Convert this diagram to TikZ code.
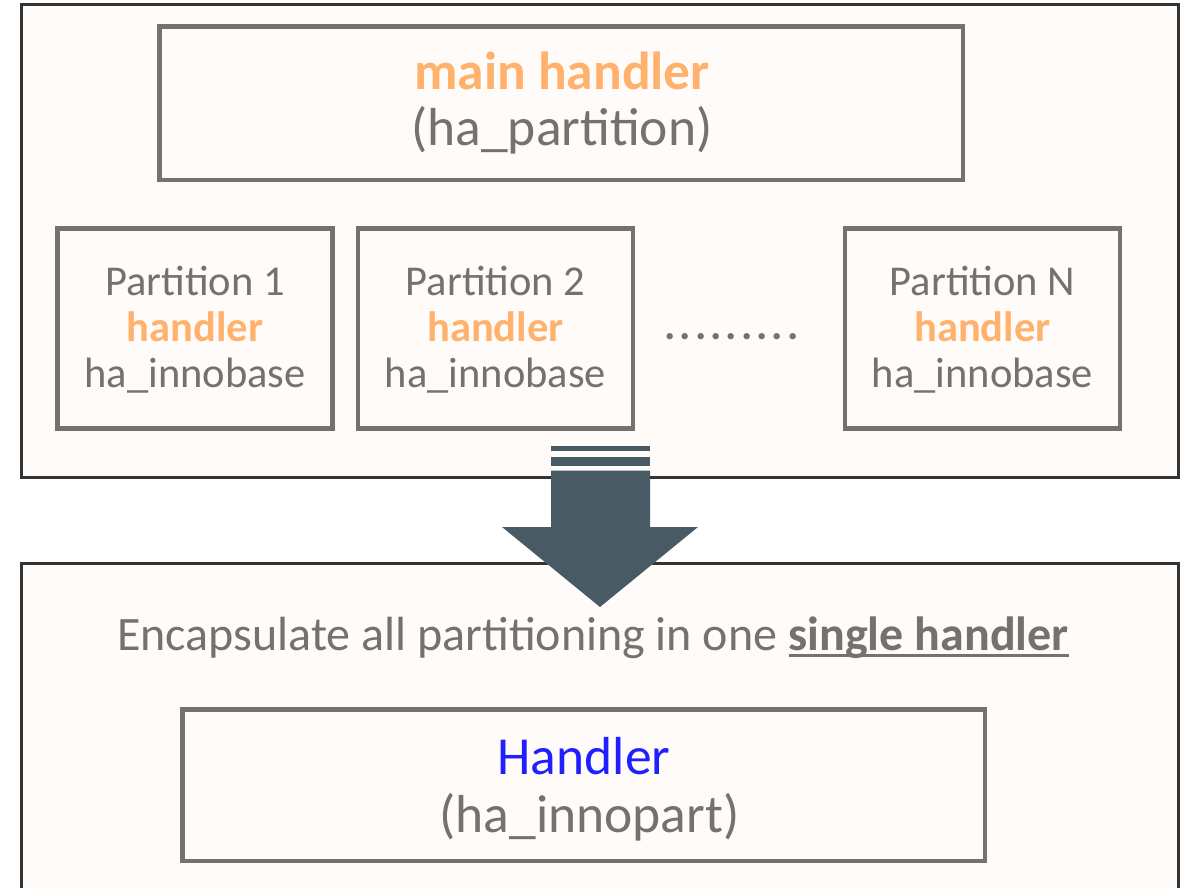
\documentclass[tikz,border=0pt]{standalone}
\usepackage{fontspec}
\setmainfont{Carlito}
\definecolor{panelfill}{HTML}{FFFBF8}
\definecolor{panelline}{HTML}{333333}
\definecolor{boxline}{HTML}{767171}
\definecolor{txtgray}{HTML}{767171}
\definecolor{hlorange}{HTML}{FFB26E}
\definecolor{hlblue}{HTML}{1F1FFF}
\definecolor{arrowfill}{HTML}{485B64}
% nine spaced dots between the partition boxes
\newcommand{\dotrun}{\bfseries\makebox[15.4pt]{.}\makebox[15.4pt]{.}\makebox[15.4pt]{.}\makebox[15.4pt]{.}\makebox[15.4pt]{.}\makebox[15.4pt]{.}\makebox[15.4pt]{.}\makebox[15.4pt]{.}\makebox[15.4pt]{.}}
% heavy underline
\newcommand{\thickul}[1]{\setbox0\hbox{#1}\rlap{\rule[-6.5pt]{\wd0}{2.6pt}}\box0}
\begin{document}
\begin{tikzpicture}[x=1pt,y=-1pt,
  panel/.style={draw=panelline,line width=3pt,fill=panelfill},
  hbox/.style={draw=boxline,line width=4.5pt},
  txt/.style={inner sep=0pt,anchor=base,text=txtgray},
  big/.style={font=\fontsize{53.5}{58}\selectfont},
  mid/.style={font=\fontsize{42.5}{46}\selectfont},
  enc/.style={font=\fontsize{48}{52}\selectfont}]
\useasboundingbox (0,0) rectangle (1186,888);
\fill[white] (0,0) rectangle (1186,888);

% upper panel: partitioned table handlers
\draw[panel] (21.5,5) rectangle (1178,477);
\draw[hbox] (159.5,26.5) rectangle (963,180);
\node[txt,text=hlorange,font=\fontsize{53.5}{58}\selectfont\bfseries] (mainh) at (562,90) {main handler};
\node[txt,big] (mainp) at (562,145.5) {(ha\_partition)};

\foreach \n/\cx/\lab in {p1/195/1, p2/495.5/2, pn/982.5/N}{
  \draw[hbox] (\cx-137.5,228.5) rectangle (\cx+137.5,428.5);
  \node[txt,mid] (\n a) at (\cx,295.7) {Partition \lab};
  \node[txt,text=hlorange,font=\fontsize{42.5}{46}\selectfont\bfseries] (\n b) at (\cx,341.3) {handler};
  \node[txt,mid] (\n c) at (\cx,387.5) {ha\_innobase};
}
\node[txt,mid] (gap) at (731.5,339) {\dotrun};

% lower panel: single encapsulating handler
\draw[panel] (21.5,563.5) rectangle (1178,900);
\node[txt,enc] (encap) at (593,650.5) {Encapsulate all partitioning in one \thickul{\bfseries single handler}};
\draw[hbox] (182.5,709.5) rectangle (985,861);
\node[txt,big,text=hlblue] (hnd) at (584,774) {Handler};
\node[txt,big] (hndp) at (589.5,832.5) {(ha\_innopart)};

% transition arrow
\fill[arrowfill] (551,445.7) rectangle (650,450.7);
\fill[arrowfill] (551,456.7) rectangle (650,465.7);
\fill[arrowfill] (551,470.7) -- (650,470.7) -- (650,527) -- (698,527)
  -- (600,607) -- (502,527) -- (551,527) -- cycle;
\end{tikzpicture}
\end{document}
